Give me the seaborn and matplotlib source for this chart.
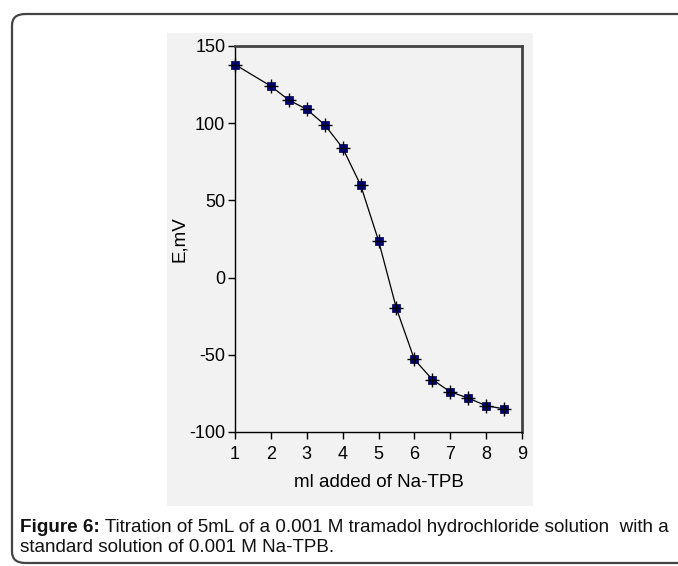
import matplotlib
matplotlib.use("Agg")
import matplotlib.pyplot as plt
import seaborn as sns
import pandas as pd
from matplotlib.patches import FancyBboxPatch, Rectangle

volume_ml = [1, 2, 2.5, 3, 3.5, 4, 4.5, 5, 5.5, 6, 6.5, 7, 7.5, 8, 8.5]
potential_mv = [138, 124, 115, 109, 99, 84, 60, 24, -20, -53, -66, -74, -78, -83, -85]
x_ticks = [1, 2, 3, 4, 5, 6, 7, 8, 9]
y_ticks = [-100, -50, 0, 50, 100, 150]

sns.set_theme(style="white")
plt.rcParams['font.family'] = ['Liberation Sans', 'DejaVu Sans']

df = pd.DataFrame({"x": volume_ml, "y": potential_mv})

W, H = 678, 566
fig = plt.figure(figsize=(W / 100, H / 100), dpi=100)
fig.patch.set_facecolor("white")

# outer rounded frame
frame = FancyBboxPatch((12 / W, 1 - 563 / H), (700 - 12) / W, (563 - 14) / H,
                       boxstyle="round,pad=0,rounding_size=0.02",
                       transform=fig.transFigure, fill=False,
                       edgecolor="#444444", linewidth=1.6, clip_on=False,
                       zorder=-2)
fig.patches.append(frame)

# grey chart panel
panel = Rectangle((167 / W, 1 - 506 / H), (533 - 167) / W, (506 - 33) / H,
                  transform=fig.transFigure, facecolor="#f2f2f2",
                  edgecolor="none", zorder=-1)
fig.patches.append(panel)

ax = fig.add_axes([235 / W, 1 - 432 / H, (522 - 235) / W, (432 - 46) / H])
ax.set_zorder(1)
ax.set_facecolor("#f2f2f2")

sns.lineplot(data=df, x="x", y="y", ax=ax, color="black", linewidth=0.9,
             sort=False, zorder=2)
sns.scatterplot(data=df, x="x", y="y", ax=ax, marker="s", s=30,
                color="#000080", edgecolor="#000040", linewidth=0.5, zorder=3,
                clip_on=False)
sns.scatterplot(data=df, x="x", y="y", ax=ax, marker="+", s=110,
                color="black", linewidth=1.0, zorder=4, clip_on=False)

ax.set_xlim(1, 9)
ax.set_ylim(-100, 150)
ax.set_xticks(x_ticks)
ax.set_yticks(y_ticks)
ax.set_xticklabels([str(t) for t in x_ticks])
ax.set_yticklabels([str(t) for t in y_ticks])
ax.tick_params(axis="both", which="both", direction="out", length=5,
               width=1, color="black", labelsize=13, pad=2,
               bottom=True, left=True, labelcolor="black")
ax.tick_params(axis="x", pad=5)

for side in ["left", "bottom"]:
    ax.spines[side].set_color("black")
    ax.spines[side].set_linewidth(1.0)
    ax.spines[side].set_visible(True)
for side in ["top", "right"]:
    ax.spines[side].set_color("#444444")
    ax.spines[side].set_linewidth(2.0)
    ax.spines[side].set_visible(True)

ax.set_xlabel("ml added of Na-TPB", fontsize=13.5, labelpad=8, color="black")
ax.set_ylabel("E,mV", fontsize=13.5, labelpad=1, color="black")

# caption
cap_fs = 13.6
y1 = 1 - 527 / H
y2 = 1 - 548 / H
t_bold = fig.text(20 / W, y1, "Figure 6:", fontsize=cap_fs, fontweight="bold",
                  va="center", ha="left", color="#111111")
fig.canvas.draw()
bb = t_bold.get_window_extent(renderer=fig.canvas.get_renderer())
fig.text(bb.x1 / W, y1, " Titration of 5mL of a 0.001 M tramadol hydrochloride solution  with a",
         fontsize=cap_fs, va="center", ha="left", color="#111111")
fig.text(20 / W, y2, "standard solution of 0.001 M Na-TPB.", fontsize=cap_fs,
         va="center", ha="left", color="#111111")

fig.savefig("out.png", dpi=100, facecolor="white")
